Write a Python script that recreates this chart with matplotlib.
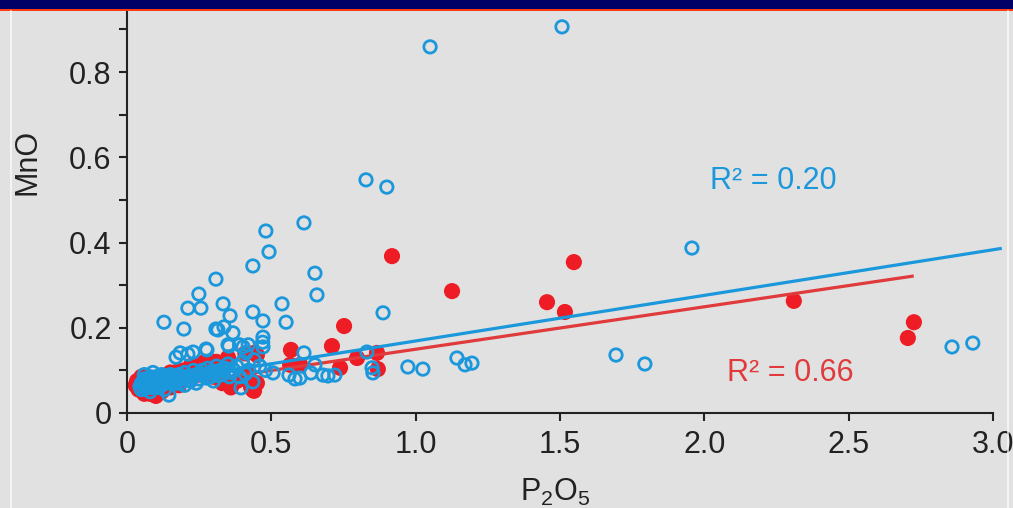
import matplotlib
matplotlib.use("Agg")
import matplotlib.pyplot as plt
from matplotlib.patches import Rectangle
from matplotlib.lines import Line2D
import numpy as np

plt.rcParams['font.family'] = ['Liberation Sans', 'DejaVu Sans']
plt.rcParams['mathtext.fontset'] = 'custom'
plt.rcParams['mathtext.rm'] = 'Liberation Sans'
plt.rcParams['mathtext.it'] = 'Liberation Sans:italic'

# ---- data: P2O5 vs MnO ----
blue_x = [1.05, 1.507, 0.828, 0.90, 1.957, 0.613, 0.481, 0.492, 0.436, 0.651,
          0.308, 0.658, 0.249, 0.211, 0.256, 0.333, 0.537, 0.436, 0.887, 0.128,
          0.197, 0.357, 0.551, 0.471, 0.308, 0.336, 0.367, 0.471, 0.353, 0.402,
          0.471, 0.274, 0.211, 0.170, 0.412, 0.613, 0.831, 0.506, 0.637, 0.679,
          0.561, 0.582, 0.599, 0.651, 0.696, 0.720, 0.849, 0.852, 0.973, 1.025,
          1.143, 1.171, 1.195, 1.694, 1.794, 2.858, 2.930, 0.395, 0.145, 0.436,
          0.315, 0.184, 0.229, 0.277, 0.350, 0.390, 0.420, 0.470,
          # dense low-P2O5 group
          0.05, 0.06, 0.06, 0.07, 0.07, 0.08, 0.08, 0.09, 0.09, 0.10,
          0.10, 0.11, 0.11, 0.12, 0.12, 0.13, 0.14, 0.15, 0.15, 0.16,
          0.17, 0.18, 0.19, 0.20, 0.21, 0.22, 0.23, 0.24, 0.25, 0.26,
          0.27, 0.28, 0.29, 0.30, 0.31, 0.32, 0.33, 0.34, 0.35, 0.36,
          0.38, 0.40, 0.42, 0.44, 0.46, 0.48, 0.05, 0.08, 0.13, 0.06,
          0.09, 0.20, 0.24, 0.30, 0.39, 0.045, 0.055, 0.065, 0.075, 0.085,
          0.095, 0.105, 0.115, 0.125, 0.135, 0.145, 0.165, 0.175, 0.185, 0.195,
          0.215, 0.235, 0.255, 0.275, 0.295, 0.315, 0.335, 0.355, 0.37, 0.41]
blue_y = [0.859, 0.906, 0.547, 0.530, 0.387, 0.446, 0.427, 0.378, 0.345, 0.328,
          0.314, 0.277, 0.279, 0.246, 0.246, 0.256, 0.256, 0.237, 0.235, 0.213,
          0.197, 0.228, 0.213, 0.216, 0.197, 0.202, 0.188, 0.178, 0.157, 0.155,
          0.155, 0.150, 0.138, 0.131, 0.141, 0.141, 0.143, 0.094, 0.094, 0.089,
          0.089, 0.080, 0.082, 0.113, 0.087, 0.089, 0.106, 0.094, 0.108, 0.103,
          0.129, 0.113, 0.117, 0.136, 0.115, 0.155, 0.164, 0.059, 0.042, 0.073,
          0.195, 0.141, 0.143, 0.148, 0.160, 0.160, 0.160, 0.166,
          0.070, 0.065, 0.080, 0.060, 0.075, 0.070, 0.085, 0.065, 0.080, 0.070,
          0.085, 0.075, 0.060, 0.080, 0.090, 0.070, 0.085, 0.075, 0.090, 0.080,
          0.070, 0.090, 0.080, 0.095, 0.085, 0.075, 0.100, 0.090, 0.080, 0.100,
          0.090, 0.105, 0.085, 0.095, 0.110, 0.100, 0.090, 0.105, 0.115, 0.095,
          0.110, 0.120, 0.100, 0.125, 0.110, 0.100, 0.055, 0.050, 0.055, 0.090,
          0.095, 0.065, 0.070, 0.075, 0.085, 0.062, 0.072, 0.058, 0.082, 0.060,
          0.075, 0.065, 0.085, 0.068, 0.078, 0.082, 0.088, 0.078, 0.070, 0.085,
          0.078, 0.088, 0.092, 0.082, 0.098, 0.088, 0.100, 0.085, 0.100, 0.092]

red_x = [0.918, 1.126, 1.548, 1.455, 1.517, 2.310, 2.726, 2.705, 0.752, 0.568,
         0.710, 0.797, 0.866, 0.738, 0.869, 0.565, 0.600, 0.440, 0.450, 0.436,
         0.433, 0.229, 0.298, 0.310,
         # dense low-P2O5 group
         0.03, 0.035, 0.04, 0.05, 0.06, 0.08, 0.10, 0.12, 0.05, 0.15,
         0.18, 0.20, 0.22, 0.25, 0.27, 0.29, 0.30, 0.33, 0.36, 0.38,
         0.40, 0.42, 0.43, 0.45, 0.44, 0.35, 0.41, 0.31, 0.18, 0.15]
red_y = [0.368, 0.286, 0.354, 0.260, 0.237, 0.263, 0.213, 0.176, 0.204, 0.148,
         0.157, 0.129, 0.141, 0.106, 0.103, 0.113, 0.113, 0.141, 0.136, 0.054,
         0.059, 0.108, 0.120, 0.115,
         0.065, 0.075, 0.055, 0.060, 0.045, 0.045, 0.040, 0.050, 0.085, 0.060,
         0.065, 0.100, 0.110, 0.115, 0.120, 0.105, 0.085, 0.070, 0.060, 0.075,
         0.080, 0.090, 0.060, 0.070, 0.052, 0.130, 0.140, 0.120, 0.100, 0.095]

# linear trends (intercept, slope, x-range) and their R^2
blue_fit = (0.062, 0.107, 0.04, 3.025)
red_fit = (0.050, 0.0996, 0.03, 2.72)
blue_r2 = "0.20"
red_r2 = "0.66"

x_ticks = [0, 0.5, 1.0, 1.5, 2.0, 2.5, 3.0]
x_tick_labels = ["0", "0.5", "1.0", "1.5", "2.0", "2.5", "3.0"]
y_ticks = [0, 0.2, 0.4, 0.6, 0.8]
y_tick_labels = ["0", "0.2", "0.4", "0.6", "0.8"]

BLUE = "#1b98dc"
RED = "#ee1c24"
RED_LINE = "#e03a3c"
BG = "#e1e1e1"

W, H = 1013, 508
fig = plt.figure(figsize=(W / 100, H / 100), dpi=100, facecolor=BG)

# slide header band
fig.patches.append(Rectangle((0, 1 - 9 / H), 1, 9 / H, transform=fig.transFigure,
                             facecolor="#000066", edgecolor="none", zorder=0))
fig.patches.append(Rectangle((0, 1 - 11 / H), 1, 2 / H, transform=fig.transFigure,
                             facecolor="#ff3b0f", edgecolor="none", zorder=0))
for xp in (11, 1008):
    fig.lines.append(Line2D([xp / W, xp / W], [0, 1 - 11 / H], transform=fig.transFigure,
                            color="white", lw=1.2, alpha=0.8))

x0, x1 = 127, 993
y0, y1 = 413, 10
ax = fig.add_axes([x0 / W, 1 - y0 / H, (x1 - x0) / W, (y0 - y1) / H])
ax.set_facecolor("none")
ax.set_xlim(0, 3.0)
ax.set_ylim(0, 0.9455)

for s in ("top", "right"):
    ax.spines[s].set_visible(False)
for s in ("left", "bottom"):
    ax.spines[s].set_linewidth(1.5)
    ax.spines[s].set_color("#222222")

ax.set_xticks(x_ticks)
ax.set_xticklabels(x_tick_labels)
ax.set_yticks(y_ticks)
ax.set_yticklabels(y_tick_labels)
ax.set_yticks(np.arange(0.1, 0.95, 0.2), minor=True)
ax.tick_params(axis="both", which="both", direction="out", length=6, width=1.5,
               color="#222222", labelsize=22, labelcolor="#222222")
ax.tick_params(axis="x", pad=6)
ax.tick_params(axis="y", pad=5)

ax.scatter(red_x, red_y, s=135, color=RED, edgecolors="none", zorder=2, clip_on=False)

bx = np.array([blue_fit[2], blue_fit[3]])
rx = np.array([red_fit[2], red_fit[3]])
ax.plot(rx, red_fit[0] + red_fit[1] * rx, color=RED_LINE, lw=2.3, zorder=3)
ax.plot(bx, blue_fit[0] + blue_fit[1] * bx, color=BLUE, lw=2.3, zorder=3, clip_on=False)

ax.scatter(blue_x, blue_y, s=80, facecolors="none", edgecolors=BLUE, linewidths=2.0,
           zorder=4, clip_on=False)

fig.text(710 / W, 1 - 181 / H, "R\u00b2 = " + blue_r2, color=BLUE, fontsize=22,
         ha="left", va="center")
fig.text(727 / W, 1 - 373 / H, "R\u00b2 = " + red_r2, color=RED_LINE, fontsize=22,
         ha="left", va="center")

fig.text(27 / W, 1 - 162 / H, "MnO", rotation=90, fontsize=22, color="#222222",
         ha="center", va="center")
fig.text(555 / W, 1 - 492 / H, r"$\mathrm{P_2O_5}$", fontsize=22, color="#222222",
         ha="center", va="center")

fig.savefig("out.png", dpi=100, facecolor=BG)
